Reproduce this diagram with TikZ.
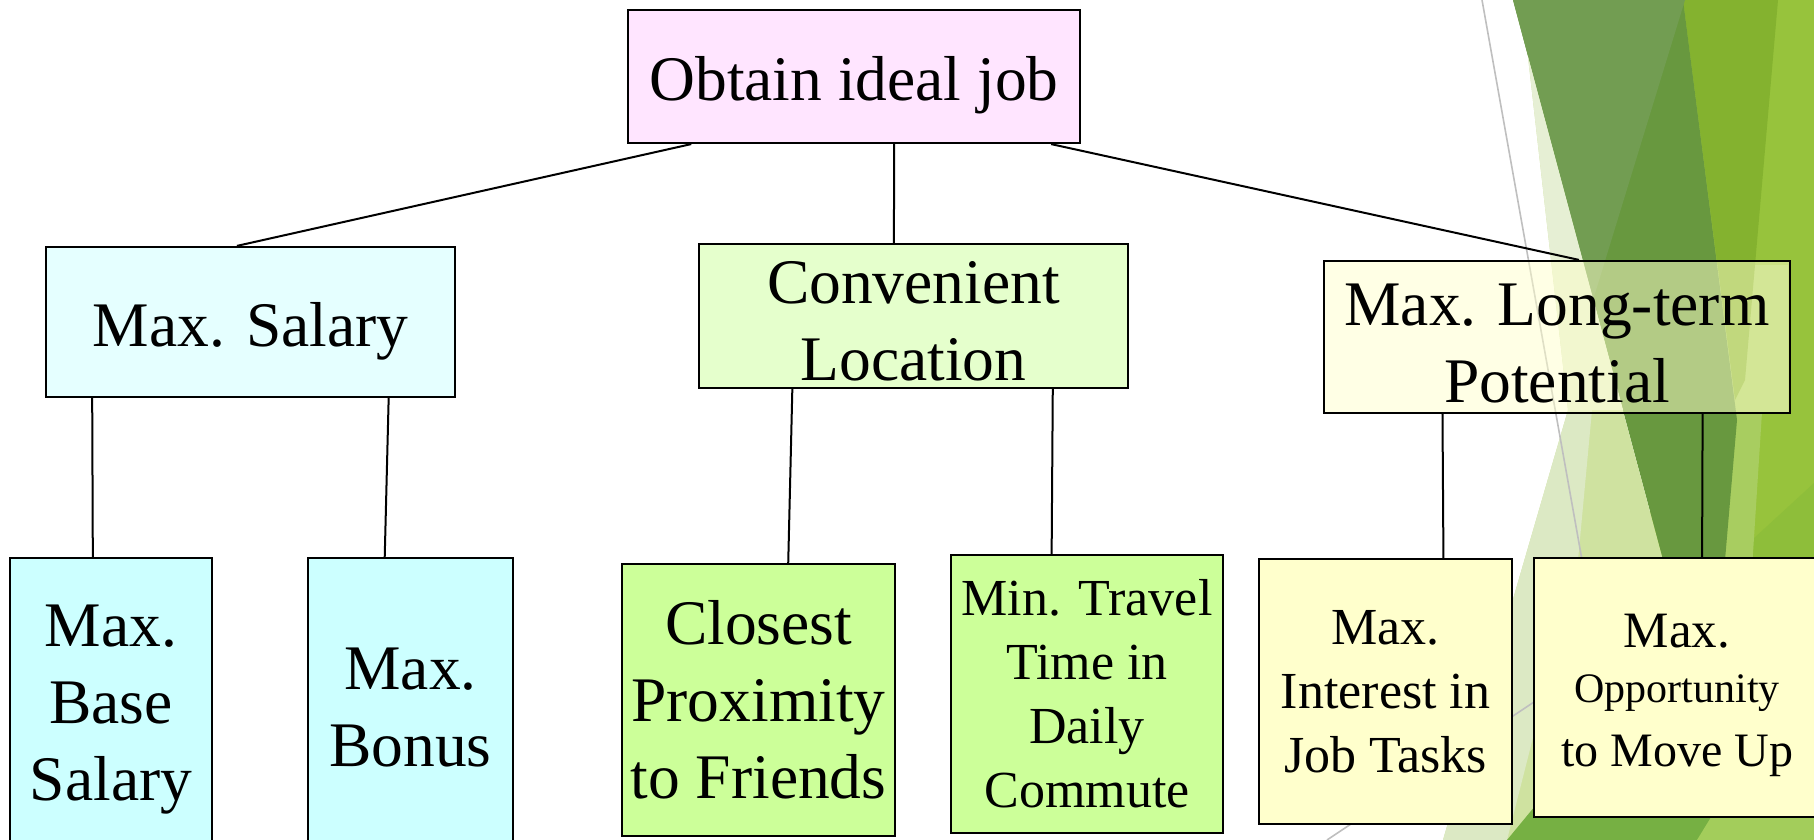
\documentclass[tikz,border=0pt]{standalone}
\usepackage{fontspec}
\setmainfont{Liberation Serif}
\usetikzlibrary{calc}
\definecolor{rootfill}{HTML}{FFE5FF}
\definecolor{salfill}{HTML}{E5FFFF}
\definecolor{convfill}{HTML}{E5FFCC}
\definecolor{cyanfill}{HTML}{CCFFFF}
\definecolor{limefill}{HTML}{CCFF99}
\definecolor{yelfill}{HTML}{FFFFCC}
\definecolor{gBase}{HTML}{97C33C}
\definecolor{gMid}{HTML}{84B22F}
\definecolor{gDark}{HTML}{68983F}
\definecolor{gDarkL}{HTML}{729D52}
\definecolor{gLightBig}{HTML}{CFE2A0}
\definecolor{gLightTop}{HTML}{E6EFD4}
\definecolor{gLightOne}{HTML}{DCE9C4}
\definecolor{gBottom}{HTML}{76B043}
\definecolor{gBottomR}{HTML}{A3CD5B}
\definecolor{gBand}{HTML}{A8CD60}
\definecolor{gBaseD}{HTML}{8EBE3A}
\definecolor{grayline}{HTML}{BFBFBF}
\newcommand\BigTxt{\fontsize{31.75pt}{38.5pt}\selectfont}
\newcommand\SmTxt{\fontsize{26pt}{32pt}\selectfont}
\newcommand\TopPad[1]{\rule{0pt}{#1}}
\begin{document}
\begin{tikzpicture}[x=0.5pt,y=-0.5pt,
  box/.style={draw=black, line width=1.1pt, inner sep=0pt, align=center, font=\BigTxt},
  smallbox/.style={box, font=\SmTxt},
  conn/.style={draw=black, line width=1pt},
  thin gray/.style={draw=grayline, line width=0.8pt}]
\useasboundingbox (0,0) rectangle (1814,840);
\begin{scope}
\clip (0,0) rectangle (1814,840);
% background decoration
\fill[gBase] (1650,0) -- (1814,0) -- (1814,840) -- (1650,840) -- cycle;
\fill[gBaseD] (1740,551) -- (1814,483) -- (1814,600) -- (1740,600) -- cycle;
\fill[gBand] (1717,265) -- (1788,265) -- (1788,412) -- (1762,412) -- (1750,600) -- (1722,600) -- cycle;
\fill[gMid] (1683,0) -- (1778,0) -- (1745,380) -- (1735,400) -- cycle;
\fill[gDark] (1513,0) -- (1683,0) -- (1737,420) -- (1725,560) -- (1708,728) -- cycle;
\fill[gDarkL] (1513,0) -- (1685,0) -- (1593,300) -- cycle;
\fill[gLightBig] (1528,57) -- (1568,410) -- (1443,840) -- (1738,840) -- cycle;
\fill[gLightTop] (1528,57) -- (1568,410) -- (1623,410) -- cycle;
\fill[gLightOne] (1568,410) -- (1592,410) -- (1578,560) -- (1507,840) -- (1443,840) -- cycle;
\draw[thin gray] (1482,0) -- (1632,840);
\fill[gBottom] (1507,840) -- (1540,800) -- (1650,720) -- (1814,640) -- (1814,840) -- cycle;
\fill[gBottomR] (1697,840) -- (1740,770) -- (1814,720) -- (1814,840) -- cycle;
\draw[thin gray] (1327,840) -- (1540,698);

% boxes
\node[box, fill=rootfill, minimum width=226pt, minimum height=66.5pt] (root) at (854,76.5) {\TopPad{31pt}Obtain ideal job};
\node[box, fill=salfill, minimum width=204.5pt, minimum height=75pt] (sal) at (250.5,322) {\TopPad{31pt}Max. Salary};
\node[box, fill=convfill, minimum width=214.5pt, minimum height=72pt] (conv) at (913.5,316) {\TopPad{26.5pt}Convenient\\Location};
\node[box, fill=yelfill, fill opacity=0.5, text opacity=1, minimum width=233pt, minimum height=76pt] (long) at (1557,337) {\TopPad{27.5pt}Max. Long-term\\Potential};
\node[box, fill=cyanfill, minimum width=101pt, minimum height=152pt] (base) at (111,710) {Max.\\Base\\Salary};
\node[box, fill=cyanfill, minimum width=102.5pt, minimum height=150pt] (bonus) at (410.5,708) {Max.\\Bonus};
\node[box, fill=limefill, minimum width=136.5pt, minimum height=136pt] (close) at (758.5,700) {Closest\\Proximity\\to Friends};
\node[smallbox, fill=limefill, minimum width=136pt, minimum height=139pt] (travel) at (1087,694) {Min. Travel\\Time in\\Daily\\Commute};
\node[smallbox, fill=yelfill, minimum width=126.5pt, minimum height=132.5pt] (interest) at (1385.5,691.5) {Max.\\Interest in\\Job Tasks};
\node[box, fill=yelfill, font=\fontsize{24pt}{29pt}\selectfont, minimum width=143pt, minimum height=129.5pt] (opp) at (1677,687.5)
  {{\fontsize{25.5pt}{29pt}\selectfont\TopPad{25pt}Max.}\\[-1.5pt]{\fontsize{21pt}{29pt}\selectfont Opportunity}\\[3pt]{\fontsize{24pt}{29pt}\selectfont to Move Up}};

% connectors
\draw[conn] ($(root.south west)!0.1416!(root.south east)$) -- ($(sal.north west)!0.467!(sal.north east)$);
\draw[conn] ($(root.south west)!0.5885!(root.south east)$) -- ($(conv.north west)!0.4545!(conv.north east)$);
\draw[conn] ($(root.south west)!0.934!(root.south east)$) -- ($(long.north west)!0.547!(long.north east)$);
\draw[conn] ($(sal.south west)!0.115!(sal.south east)$) -- ($(base.north west)!0.411!(base.north east)$);
\draw[conn] ($(sal.south west)!0.836!(sal.south east)$) -- ($(bonus.north west)!0.3756!(bonus.north east)$);
\draw[conn] ($(conv.south west)!0.219!(conv.south east)$) -- ($(close.north west)!0.608!(close.north east)$);
\draw[conn] ($(conv.south west)!0.823!(conv.south east)$) -- ($(travel.north west)!0.371!(travel.north east)$);
\draw[conn] ($(long.south west)!0.2554!(long.south east)$) -- ($(interest.north west)!0.727!(interest.north east)$);
\draw[conn] ($(long.south west)!0.811!(long.south east)$) -- ($(opp.north west)!0.587!(opp.north east)$);
\end{scope}
\end{tikzpicture}
\end{document}
